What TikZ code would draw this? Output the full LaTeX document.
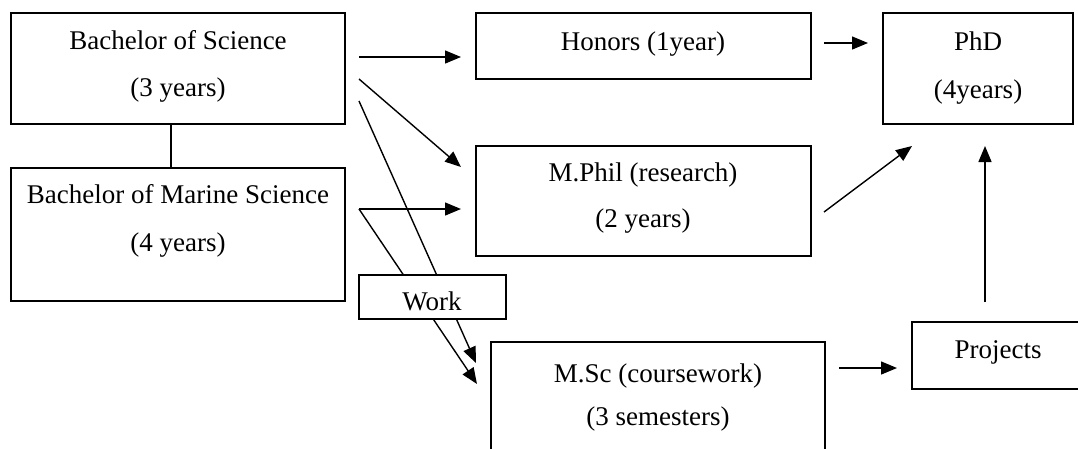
\documentclass[tikz,border=0pt]{standalone}
\usepackage{fontspec}
\setmainfont{Liberation Serif}
\usetikzlibrary{arrows.meta}
\begin{document}
\begin{tikzpicture}[x=1pt,y=-1pt,
  box/.style={draw=black,line width=1.8pt,fill=white,rectangle,inner sep=0pt},
  txt/.style={anchor=base,inner sep=0pt,font=\fontsize{27}{32}\selectfont},
  conn/.style={line width=1.4pt},
  arr/.style={conn,-{Triangle[length=16pt,width=13pt]}}]
\useasboundingbox (0,0) rectangle (1078,448);
\begin{scope}
\clip (0,0) rectangle (1078,448);
% boxes
\node[box,minimum width=334pt,minimum height=111pt] (bsc) at (178,68.5) {};
\node[box,minimum width=334pt,minimum height=133pt] (bms) at (178,234.5) {};
\node[box,minimum width=335pt,minimum height=66pt] (hon) at (643.5,46) {};
\node[box,minimum width=335pt,minimum height=110pt] (mphil) at (643.5,201) {};
\node[box,minimum width=190pt,minimum height=111pt] (phd) at (978,68.5) {};
\node[box,minimum width=334pt,minimum height=130pt] (msc) at (658,407) {};
\node[box,minimum width=172pt,minimum height=67pt] (proj) at (998,355.5) {};
% connector end points
\coordinate (c1) at (171,0);
\coordinate (s1) at (359,57);   \coordinate (e1) at (461,57);
\coordinate (s2) at (359,79);   \coordinate (e2) at (461,167);
\coordinate (s3) at (359,101);  \coordinate (e3) at (476,363);
\coordinate (s4) at (359,209);  \coordinate (e4) at (461,209);
\coordinate (e5) at (477,384);
\coordinate (s6) at (824,43);   \coordinate (e6) at (868,43);
\coordinate (s7) at (824,212);  \coordinate (e7) at (912,146);
\coordinate (s8) at (985,302);  \coordinate (e8) at (985,146);
\coordinate (s9) at (839,368);  \coordinate (e9) at (897,368);
% connectors
\draw[conn] (bsc.south -| c1) -- (bms.north -| c1);
\draw[arr] (s1) -- (e1);
\draw[arr] (s2) -- (e2);
\draw[arr] (s3) -- (e3);
\draw[arr] (s4) -- (e4);
\draw[arr] (s4) -- (e5);
\draw[arr] (s6) -- (e6);
\draw[arr] (s7) -- (e7);
\draw[arr] (s8) -- (e8);
\draw[arr] (s9) -- (e9);
% work box on top
\node[box,minimum width=147pt,minimum height=44pt] (work) at (432.5,297) {};
% texts
\node[txt] (t1) at (178,49) {Bachelor of Science};
\node[txt] (t2) at (178,96) {(3 years)};
\node[txt] (t3) at (178,203) {Bachelor of Marine Science};
\node[txt] (t4) at (178,251) {(4 years)};
\node[txt] (t5) at (643,50) {Honors (1year)};
\node[txt] (t6) at (643,181) {M.Phil (research)};
\node[txt] (t7) at (643,227) {(2 years)};
\node[txt] (t8) at (978,50) {PhD};
\node[txt] (t9) at (978,98) {(4years)};
\node[txt] (t10) at (432,310) {Work};
\node[txt] (t11) at (658,382) {M.Sc (coursework)};
\node[txt] (t12) at (658,425) {(3 semesters)};
\node[txt] (t13) at (998,358) {Projects};
\end{scope}
\end{tikzpicture}
\end{document}
